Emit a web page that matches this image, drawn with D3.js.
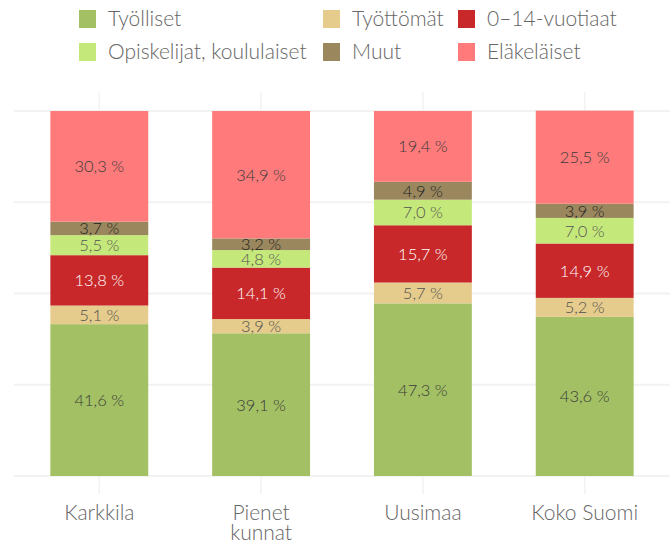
<!DOCTYPE html>
<html><head><meta charset="utf-8">
<script src="https://cdn.jsdelivr.net/npm/d3@7"></script>
<style>body{margin:0;background:#fff}svg{display:block}text{font-family:Lato,"Open Sans",sans-serif;font-weight:300}</style>
</head><body><svg id="c" width="670" height="545"></svg>
<script>
const categories = ["Karkkila", "Pienet kunnat", "Uusimaa", "Koko Suomi"];
const seriesNames = ["Työlliset", "Työttömät", "0–14-vuotiaat", "Opiskelijat, koululaiset", "Muut", "Eläkeläiset"];
const tyolliset = [41.6, 39.1, 47.3, 43.6];
const tyottomat = [5.1, 3.9, 5.7, 5.2];
const lapset = [13.8, 14.1, 15.7, 14.9];
const opiskelijat = [5.5, 4.8, 7.0, 7.0];
const muut = [3.7, 3.2, 4.9, 3.9];
const elakelaiset = [30.3, 34.9, 19.4, 25.5];
const yTicks = [0, 25, 50, 75, 100];
const colors = ["#a3c164", "#e5cb8c", "#c8282a", "#c5e87a", "#9b875e", "#ff7b7b"];
const labelColors = ["#3a3a3a", "#505050", "#ffffff", "#555555", "#222222", "#3a3a3a"];

const seriesVals = [tyolliset, tyottomat, lapset, opiskelijat, muut, elakelaiset];
const rows = categories.map((c, i) => {
  const r = {cat: c};
  seriesNames.forEach((s, j) => r[s] = seriesVals[j][i]);
  return r;
});
const stack = d3.stack().keys(seriesNames)(rows);

const svg = d3.select("#c");
const x = d3.scaleBand().domain(categories).range([18, 666]).paddingInner(0.395).paddingOuter(0.2);
const y = d3.scaleLinear().domain([0, 100]).range([476, 111]);

// horizontal gridlines
svg.append("g").selectAll("line").data(yTicks).join("line")
  .attr("x1", 14).attr("x2", 670).attr("y1", d => y(d)).attr("y2", d => y(d))
  .attr("stroke", "#f2f2f2").attr("stroke-width", 2);

// vertical tick marks at category centres (top and bottom)
const cx = d => x(d) + x.bandwidth() / 2;
svg.append("g").selectAll("line").data(categories).join("line")
  .attr("x1", cx).attr("x2", cx).attr("y1", 92).attr("y2", 110)
  .attr("stroke", "#f2f2f2").attr("stroke-width", 1.5);
svg.append("g").selectAll("line").data(categories).join("line")
  .attr("x1", cx).attr("x2", cx).attr("y1", 477).attr("y2", 494)
  .attr("stroke", "#f2f2f2").attr("stroke-width", 1.5);

// bars
const g = svg.append("g");
stack.forEach((layer, j) => {
  g.append("g").selectAll("rect").data(layer).join("rect")
    .attr("x", d => x(d.data.cat)).attr("width", x.bandwidth())
    .attr("y", d => y(d[1])).attr("height", d => y(d[0]) - y(d[1]))
    .attr("fill", colors[j]);
});
stack.forEach((layer, j) => {
  g.append("g").selectAll("text").data(layer).join("text")
    .attr("x", d => cx(d.data.cat))
    .attr("y", d => (y(d[0]) + y(d[1])) / 2)
    .attr("dy", "0.36em").attr("text-anchor", "middle")
    .attr("font-size", 16.5).attr("fill", labelColors[j])
    .text(d => d3.format(".1f")(d[1] - d[0]).replace(".", ",") + " %");
});

// x axis labels
const xl = svg.append("g").selectAll("text").data(categories).join("text")
  .attr("x", cx).attr("y", 520)
  .attr("text-anchor", "middle").attr("font-size", 21).attr("fill", "#666");
xl.each(function(d) {
  const t = d3.select(this);
  if (d === "Pienet kunnat") {
    t.append("tspan").attr("x", cx(d)).attr("dy", 0).text("Pienet");
    t.append("tspan").attr("x", cx(d)).attr("dy", 20).text("kunnat");
  } else t.text(d);
});

// legend
const legendPos = [[79, 10], [323, 10], [458, 10], [79, 43], [323, 43], [458, 43]];
const lg = svg.append("g").selectAll("g").data(seriesNames).join("g")
  .attr("transform", (d, i) => `translate(${legendPos[i][0]},${legendPos[i][1]})`);
lg.append("rect").attr("width", 17).attr("height", 18).attr("fill", (d, i) => colors[i]);
lg.append("text").attr("x", 29).attr("y", 16).attr("font-size", 21).attr("fill", "#666")
  .text(d => d);
</script></body></html>
